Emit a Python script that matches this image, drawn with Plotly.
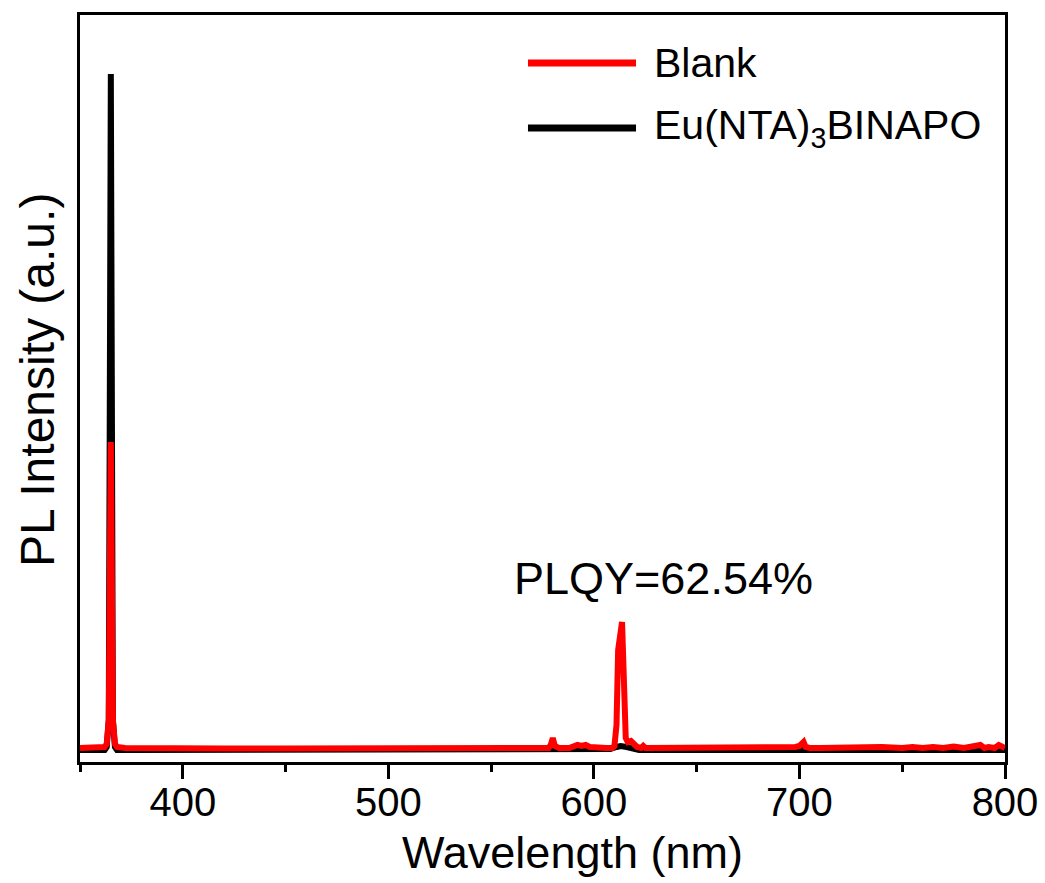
import plotly.graph_objects as go

# ---- data (arbitrary intensity units, baseline = 0) ----
blank_wl = [350, 355, 360, 362, 363, 364, 365, 366, 367, 368, 372, 390, 420, 450, 480,
            510, 540, 565, 575, 578, 579, 580, 581, 583, 588, 590, 592, 594, 596, 598,
            602, 606, 609, 610, 611, 611.8, 613.7, 614.6, 615.5, 616.5, 618, 619.5,
            621, 623, 624, 625, 630, 640, 650, 660, 670, 680, 690, 698, 700, 702, 703,
            705, 710, 720, 730, 740, 750, 755, 760, 765, 770, 775, 780, 785, 788, 790,
            792, 795, 797, 800]
blank_int = [2, 2, 2, 3, 6, 30, 308, 30, 6, 3, 2, 1.5, 1.5, 1.5, 1.5,
             1.5, 1.5, 1.5, 2, 2, 5, 12, 4, 2, 2, 3, 5, 4, 5, 3,
             2, 2, 2, 4, 25, 100, 128, 35, 12, 8, 9, 6,
             3, 2, 4, 2, 2, 2, 2, 2.5, 2, 2.5, 2, 3, 4, 8, 3,
             2, 2, 2.5, 2, 3, 2, 3, 2, 3, 2, 3.5, 2, 3, 5, 2,
             3, 2, 5, 2]

eu_wl = [350, 360, 362, 363, 364, 365, 366, 367, 368, 372, 450, 550, 605, 608, 611,
         613, 616, 619, 622, 650, 700, 750, 800]
eu_int = [0, 0, 0, 3, 30, 676, 30, 3, 0, 0, 0, 0, 0, 1, 3,
          4, 3, 2, 0, 0, 0, 0, 0]

x_ticks = [400, 500, 600, 700, 800]
series_names = ["Blank", "Eu(NTA)<sub>3</sub>BINAPO"]
series_colors = ["#ff0000", "#000000"]
annotation_text = "PLQY=62.54%"
x_title = "Wavelength (nm)"
y_title = "PL Intensity (a.u.)"

FONT = "Arial, Liberation Sans, sans-serif"

fig = go.Figure()
fig.add_trace(go.Scatter(x=eu_wl, y=eu_int, mode="lines", name=series_names[1],
                         line=dict(color=series_colors[1], width=6), showlegend=False))
fig.add_trace(go.Scatter(x=blank_wl, y=blank_int, mode="lines", name=series_names[0],
                         line=dict(color=series_colors[0], width=6), showlegend=False))

# manual legend (long line samples like the original)
legend_rows = [(0.9357, series_colors[0], series_names[0]),
               (0.8487, series_colors[1], series_names[1])]
for ypos, col, name in legend_rows:
    fig.add_shape(type="line", xref="paper", yref="paper", x0=0.4843, x1=0.6011,
                  y0=ypos, y1=ypos, line=dict(color=col, width=7))
    fig.add_annotation(xref="paper", yref="paper", x=0.6184, y=ypos, text=name,
                       showarrow=False, xanchor="left", yanchor="middle",
                       font=dict(family=FONT, size=41, color="black"))

fig.add_annotation(x=634, y=172, text=annotation_text, showarrow=False,
                   xanchor="center", yanchor="middle",
                   font=dict(family=FONT, size=45, color="black"))

# axis titles as annotations for exact placement
fig.add_annotation(xref="paper", yref="paper", x=(572 - 80) / 925, y=-(852 - 762) / 747,
                   text=x_title, showarrow=False, xanchor="center", yanchor="middle",
                   font=dict(family=FONT, size=45, color="black"))
fig.add_annotation(xref="paper", yref="paper", x=-(80 - 37) / 925, y=(762 - 380) / 747,
                   text=y_title, showarrow=False, xanchor="center", yanchor="middle",
                   textangle=-90, font=dict(family=FONT, size=48, color="black"))

fig.update_layout(
    width=1045, height=883,
    margin=dict(l=80, r=40, t=15, b=121, autoexpand=False),
    paper_bgcolor="white", plot_bgcolor="white",
    font=dict(family=FONT, color="black"),
)
fig.update_xaxes(
    range=[350, 800], tickvals=x_ticks, ticks="outside", ticklen=14, tickwidth=2.5,
    tickcolor="black", showline=True, linewidth=2.5, linecolor="black", mirror=True,
    showgrid=False, zeroline=False, tickfont=dict(family=FONT, size=40),
    ticklabelstandoff=-11, automargin=False,
    minor=dict(tickvals=[350, 450, 550, 650, 750], ticks="outside", ticklen=7,
               tickwidth=2.5, tickcolor="black"),
)
fig.update_yaxes(
    range=[-12, 735], showticklabels=False, ticks="", showline=True, linewidth=2.5,
    linecolor="black", mirror=True, showgrid=False, zeroline=False, automargin=False,
)

fig.write_html("out.html")
